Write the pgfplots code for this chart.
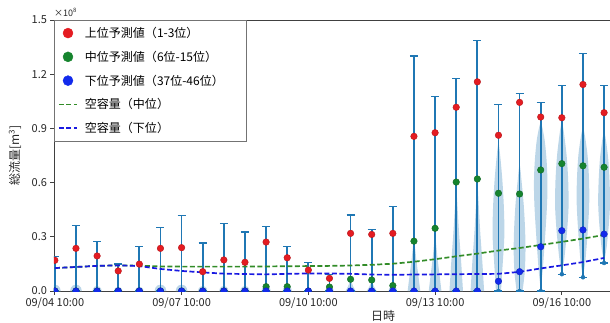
\documentclass[border=0pt]{standalone}
\usepackage{fontspec}
\setmainfont{Noto Sans CJK JP}
\usepackage{pgfplots}
\pgfplotsset{compat=1.18}
\usepackage{pgfplotstable}
\definecolor{c0}{HTML}{1F77B4}
\definecolor{vio}{RGB}{188,214,232}
\definecolor{gline}{RGB}{50,140,40}
\definecolor{bline}{RGB}{25,25,225}
\definecolor{mred}{RGB}{228,28,34}
\definecolor{mgreen}{RGB}{22,132,46}
\definecolor{mblue}{RGB}{18,42,236}

\pgfplotstableread{
idx up mid low lo hi
0 0.170 0.000 0.000 0.000 0.190
1 0.236 0.000 0.000 0.000 0.361
2 0.194 0.000 0.000 0.000 0.273
3 0.111 0.000 0.000 0.000 0.149
4 0.149 0.000 0.000 0.000 0.245
5 0.236 0.000 0.000 0.000 0.352
6 0.240 0.000 0.000 0.000 0.417
7 0.107 0.000 0.000 0.000 0.266
8 0.172 0.000 0.000 0.000 0.372
9 0.159 0.000 0.000 0.000 0.327
10 0.271 0.024 0.000 0.000 0.358
11 0.184 0.024 0.000 0.000 0.245
12 0.116 0.000 0.000 0.000 0.157
13 0.070 0.022 0.000 0.000 0.090
14 0.319 0.065 0.000 0.000 0.420
15 0.313 0.061 0.000 0.000 0.339
16 0.319 0.030 0.000 0.000 0.469
17 0.856 0.276 0.000 0.000 1.300
18 0.876 0.347 0.000 0.000 1.077
19 1.017 0.603 0.000 0.000 1.175
20 1.158 0.620 0.000 0.000 1.385
21 0.862 0.541 0.054 0.000 1.031
22 1.044 0.537 0.107 0.000 1.092
23 0.963 0.670 0.245 0.000 1.042
24 0.959 0.705 0.334 0.093 1.136
25 1.143 0.693 0.338 0.076 1.316
26 0.987 0.685 0.315 0.155 1.136
}\datatable

\pgfplotstableread{
idx cmid clow
0 0.127 0.127
1 0.133 0.133
2 0.139 0.139
3 0.142 0.142
4 0.140 0.138
5 0.136 0.122
6 0.135 0.111
7 0.135 0.103
8 0.135 0.096
9 0.135 0.094
10 0.136 0.092
11 0.137 0.095
12 0.138 0.097
13 0.139 0.097
14 0.141 0.095
15 0.145 0.091
16 0.151 0.090
17 0.162 0.091
18 0.176 0.092
19 0.192 0.093
20 0.207 0.094
21 0.224 0.095
22 0.238 0.106
23 0.255 0.125
24 0.272 0.142
25 0.290 0.160
26 0.310 0.183
}\captable

\begin{document}
\begin{tikzpicture}
\begin{axis}[
 at={(54pt,31pt)}, anchor=south west,
 scale only axis, width=556pt, height=271pt,
 xmin=-0.04, xmax=26.28, ymin=0, ymax=1.5,
 axis x line*=bottom, axis y line*=left,
 axis line style={black!75, line width=0.8pt},
 tick style={black!75, line width=0.8pt},
 tick align=outside, major tick length=3.5pt,
 xtick={0,6,12,18,24},
 xticklabels={09/04 10:00,09/07 10:00,09/10 10:00,09/13 10:00,09/16 10:00},
 ytick={0,0.3,0.6,0.9,1.2,1.5},
 yticklabel style={/pgf/number format/.cd, fixed, fixed zerofill, precision=1},
 /pgf/number format/assume math mode=true,
 scaled y ticks=false,
 ticklabel style={font=\fontsize{11}{13}\selectfont, text=black!85},
 xlabel={日時}, ylabel={総流量[m\textsuperscript{3}]},
 label style={font=\fontsize{12}{14}\selectfont, text=black!85},
 xlabel style={at={(axis description cs:0.592,-0.0923)}, anchor=center},
 ylabel style={at={(axis description cs:-0.0701,0.5)}, anchor=center},
 clip mode=individual, clip marker paths=true,
 unbounded coords=jump,
 legend cell align=left,
 legend style={at={(axis description cs:0,1)}, anchor=north west, draw=black!55, fill=white,
   font=\fontsize{12}{14}\selectfont, row sep=8pt, inner xsep=4pt, inner ysep=5pt},
]
\addlegendimage{legend image code/.code={\path[draw=none, fill=none] (0pt,-5pt) rectangle (24pt,5pt); \fill[mred] (9pt,0pt) circle (5pt);}}
\addlegendentry{上位予測値（1-3位）}
\addlegendimage{legend image code/.code={\path[draw=none, fill=none] (0pt,-5pt) rectangle (24pt,5pt); \fill[mgreen] (9pt,0pt) circle (5pt);}}
\addlegendentry{中位予測値（6位-15位）}
\addlegendimage{legend image code/.code={\path[draw=none, fill=none] (0pt,-5pt) rectangle (24pt,5pt); \fill[mblue] (9pt,0pt) circle (5pt);}}
\addlegendentry{下位予測値（37位-46位）\hspace*{16pt}}
\addlegendimage{legend image code/.code={\path[draw=none, fill=none] (0pt,-5pt) rectangle (24pt,5pt); \draw[gline, line width=1.6pt, dash pattern=on 5pt off 2.5pt] (0pt,0pt) -- (18pt,0pt);}}
\addlegendentry{空容量（中位）}
\addlegendimage{legend image code/.code={\path[draw=none, fill=none] (0pt,-5pt) rectangle (24pt,5pt); \draw[bline, line width=1.6pt, dash pattern=on 5pt off 2.5pt] (0pt,0pt) -- (18pt,0pt);}}
\addlegendentry{空容量（下位）}

% violins: small ones near zero
\addplot[forget plot, fill=vio, draw=none] coordinates {
(-0.28,0) (-0.24,0.018) (-0.14,0.031) (0,0.035) (0.14,0.031) (0.24,0.018) (0.28,0) (0.5,nan)
(0.72,0) (0.76,0.018) (0.86,0.031) (1,0.035) (1.14,0.031) (1.24,0.018) (1.28,0) (1.5,nan)
(4.72,0) (4.76,0.018) (4.86,0.031) (5,0.035) (5.14,0.031) (5.24,0.018) (5.28,0) (5.5,nan)
(5.72,0) (5.76,0.018) (5.86,0.031) (6,0.035) (6.14,0.031) (6.24,0.018) (6.28,0) (6.5,nan)
(1.78,0) (1.81,0.014) (1.89,0.024) (2,0.027) (2.11,0.024) (2.19,0.014) (2.22,0) (2.5,nan)
(2.80,0) (2.83,0.012) (2.90,0.020) (3,0.022) (3.10,0.020) (3.17,0.012) (3.20,0) (3.5,nan)
(3.80,0) (3.83,0.012) (3.90,0.020) (4,0.022) (4.10,0.020) (4.17,0.012) (4.20,0) (4.5,nan)
(6.78,0) (6.81,0.014) (6.89,0.024) (7,0.027) (7.11,0.024) (7.19,0.014) (7.22,0) (7.5,nan)
(7.78,0) (7.81,0.014) (7.89,0.024) (8,0.027) (8.11,0.024) (8.19,0.014) (8.22,0) (8.5,nan)
(8.78,0) (8.81,0.014) (8.89,0.024) (9,0.027) (9.11,0.024) (9.19,0.014) (9.22,0) (9.5,nan)
(9.78,0) (9.81,0.014) (9.89,0.024) (10,0.027) (10.11,0.024) (10.19,0.014) (10.22,0) (10.5,nan)
(10.78,0) (10.81,0.014) (10.89,0.024) (11,0.027) (11.11,0.024) (11.19,0.014) (11.22,0) (11.5,nan)
(12.80,0) (12.83,0.012) (12.90,0.020) (13,0.024) (13.10,0.020) (13.17,0.012) (13.20,0) (13.5,nan)
(13.76,0) (13.88,0.025) (14,0.065) (14.12,0.025) (14.24,0) (14.5,nan)
(14.76,0) (14.88,0.022) (15,0.055) (15.12,0.022) (15.24,0) (15.5,nan)
(15.80,0) (15.83,0.014) (15.90,0.025) (16,0.030) (16.10,0.025) (16.17,0.014) (16.20,0)
};
% violins: larger ones
\addplot[forget plot, fill=vio, draw=none, smooth, tension=0.5] coordinates {(16.70,0) (16.78,0.075) (16.88,0.165) (16.96,0.255) (17,0.30) (17.04,0.255) (17.12,0.165) (17.22,0.075) (17.30,0)};
\addplot[forget plot, fill=vio, draw=none, smooth, tension=0.5] coordinates {(17.70,0) (17.78,0.08) (17.88,0.176) (17.96,0.272) (18,0.32) (18.04,0.272) (18.12,0.176) (18.22,0.08) (18.30,0)};
\addplot[forget plot, fill=vio, draw=none, smooth, tension=0.5] coordinates {(18.68,0) (18.76,0.15) (18.87,0.33) (18.96,0.51) (19,0.60) (19.04,0.51) (19.13,0.33) (19.24,0.15) (19.32,0)};
\addplot[forget plot, fill=vio, draw=none, smooth, tension=0.5] coordinates {(19.68,0) (19.76,0.155) (19.87,0.34) (19.96,0.53) (20,0.62) (20.04,0.53) (20.13,0.34) (20.24,0.155) (20.32,0)};
\addplot[forget plot, fill=vio, draw=none, smooth, tension=0.5] coordinates {(20.88,0) (20.80,0.15) (20.73,0.28) (20.72,0.36) (20.75,0.48) (20.82,0.62) (20.92,0.75) (21,0.82) (21.08,0.75) (21.18,0.62) (21.25,0.48) (21.28,0.36) (21.27,0.28) (21.20,0.15) (21.12,0)};
\addplot[forget plot, fill=vio, draw=none, smooth, tension=0.5] coordinates {(21.86,0) (21.76,0.10) (21.72,0.22) (21.74,0.34) (21.80,0.47) (21.90,0.60) (22,0.70) (22.10,0.60) (22.20,0.47) (22.26,0.34) (22.28,0.22) (22.24,0.10) (22.14,0)};
\addplot[forget plot, fill=vio, draw=none, smooth, tension=0.5] coordinates {(23,0.01) (22.90,0.12) (22.78,0.32) (22.70,0.48) (22.68,0.60) (22.72,0.72) (22.82,0.84) (23,0.93) (23.18,0.84) (23.28,0.72) (23.32,0.60) (23.30,0.48) (23.22,0.32) (23.10,0.12)};
\addplot[forget plot, fill=vio, draw=none, smooth, tension=0.5] coordinates {(24,0.09) (23.88,0.18) (23.76,0.32) (23.69,0.44) (23.68,0.52) (23.71,0.64) (23.80,0.78) (24,0.93) (24.20,0.78) (24.29,0.64) (24.32,0.52) (24.31,0.44) (24.24,0.32) (24.12,0.18)};
\addplot[forget plot, fill=vio, draw=none, smooth, tension=0.5] coordinates {(25,0.075) (24.88,0.17) (24.78,0.32) (24.71,0.46) (24.70,0.55) (24.73,0.66) (24.81,0.78) (25,0.90) (25.19,0.78) (25.27,0.66) (25.30,0.55) (25.29,0.46) (25.22,0.32) (25.12,0.17)};
\addplot[forget plot, fill=vio, draw=none, smooth, tension=0.5] coordinates {(26,0.155) (25.88,0.24) (25.78,0.36) (25.73,0.45) (25.72,0.52) (25.75,0.63) (25.82,0.75) (26,0.88) (26.18,0.75) (26.25,0.63) (26.28,0.52) (26.27,0.45) (26.22,0.36) (26.12,0.24)};

% extrema bars
\addplot[forget plot, c0, only marks, mark=none,
  error bars/.cd, y dir=both, y explicit, error mark=-,
  error bar style={c0, line width=1.7pt},
  error mark options={c0, line width=1.4pt, mark size=4pt, rotate=90}]
  table[x=idx, y=lo, y error plus expr=\thisrow{hi}-\thisrow{lo}, y error minus expr=0] {\datatable};

% capacity lines
\addplot[forget plot, gline, line width=1.7pt, dash pattern=on 5pt off 2.5pt] table[x=idx, y=cmid] {\captable};
\addplot[forget plot, bline, line width=1.7pt, dash pattern=on 5pt off 2.5pt] table[x=idx, y=clow] {\captable};

% predicted values
\addplot[forget plot, only marks, mark=*, mark size=3.3pt, mark options={fill=mred, draw=mred!80!black, line width=0.4pt}] table[x=idx, y=up] {\datatable};
\addplot[forget plot, only marks, mark=*, mark size=3.3pt, mark options={fill=mgreen, draw=mgreen!80!black, line width=0.4pt}] table[x=idx, y=mid] {\datatable};
\addplot[forget plot, only marks, mark=*, mark size=3.3pt, mark options={fill=mblue, draw=mblue!80!black, line width=0.4pt}] table[x=idx, y=low] {\datatable};

\draw[black!75, line width=0.8pt] (axis description cs:0,1) -- (axis description cs:1,1);
\node[anchor=south west, inner sep=0pt, font=\fontsize{9}{10}\selectfont, text=black!85] at ([yshift=3pt]axis description cs:0,1) {×10\textsuperscript{8}};
\end{axis}
\pgfresetboundingbox
\useasboundingbox (0,0) rectangle (610pt,322pt);
\end{tikzpicture}
\end{document}
